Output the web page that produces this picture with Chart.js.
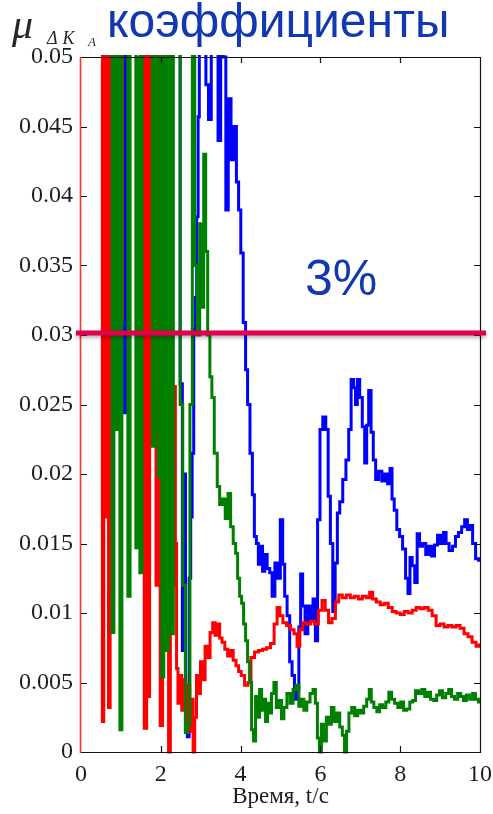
<!DOCTYPE html>
<html>
<head>
<meta charset="utf-8">
<script src="https://cdn.jsdelivr.net/npm/chart.js@4"></script>
<style>
  html,body{margin:0;padding:0;background:#fff;}
  #wrap{position:relative;width:493px;height:814px;overflow:hidden;}
  canvas{position:absolute;left:0;top:0;}
  .t{position:absolute;white-space:nowrap;line-height:1;}
</style>
</head>
<body>
<div id="wrap">
  <canvas id="c" width="493" height="814"></canvas>
  <div class="t" style="left:12px;top:3px;font-family:'Liberation Serif',serif;font-style:italic;font-size:42px;color:#2b2622;">μ</div>
  <div class="t" style="left:47px;top:29px;font-family:'Liberation Serif',serif;font-style:italic;font-size:18px;color:#2b2622;letter-spacing:2px;">Δ<span style="margin-left:3px">K</span></div>
  <div class="t" style="left:88px;top:35px;font-family:'Liberation Serif',serif;font-style:italic;font-size:13px;color:#2b2622;">A</div>
  <div class="t" style="left:107px;top:-3px;font-family:'Liberation Sans',Arial,sans-serif;font-size:48px;color:#1237b2;">коэффициенты</div>
  <div class="t" style="left:305px;top:253px;font-family:'Liberation Sans',Arial,sans-serif;font-size:50px;color:#1237b2;">3%</div>
</div>
<script>
// ---- data (0.08 = above the visible range, clipped) ----
const xTickLabels = ['0','2','4','6','8','10'];
const yTickLabels = ['0','0.005','0.01','0.015','0.02','0.025','0.03','0.035','0.04','0.045','0.05'];
const xTitle = 'Время, t/c';
const thresholdValue = 0.03;

const redT = [0,0.52,0.55,0.59,0.63,0.67,0.71,0.75,0.99,1.02,1.06,1.47,1.51,1.55,1.62,1.67,1.7,1.74,1.86,1.9,1.95,2.02,2.07,2.12,2.17,2.22,2.26,2.3,2.35,2.38,2.41,2.45,2.5,2.55,2.6,2.65,2.7,2.75,2.79,2.83,2.87,2.92,2.97,3.02,3.08,3.14,3.2,3.27,3.33,3.39,3.45,3.5,3.57,3.64,3.71,3.78,3.85,3.92,3.98,4.05,4.15,4.22,4.3,4.4,4.5,4.6,4.7,4.8,4.88,4.95,5.02,5.1,5.2,5.3,5.38,5.45,5.52,5.6,5.7,5.8,5.9,6.0,6.08,6.16,6.25,6.33,6.42,6.5,6.6,6.7,6.8,6.9,7.0,7.1,7.2,7.27,7.35,7.45,7.55,7.65,7.75,7.85,7.95,8.05,8.15,8.25,8.35,8.45,8.55,8.65,8.75,8.85,8.95,9.05,9.15,9.25,9.35,9.45,9.55,9.65,9.75,9.85,9.95,10];
const redV = [0.08,0.08,0.0022,0.08,0.0169,0.08,0.0032,0.08,0.08,0.031,0.08,0.08,0.0239,0.08,0.0017,0.08,0.004,0.08,0.08,0.012,0.08,0.0019,0.05,0.009,0.04,0,0.018,0.012,0.0263,0.015,0.006,0.0035,0.0055,0.003,0.0052,0.002,0.0048,0.0015,0.0038,0,0.0025,0.0055,0.0042,0.0065,0.0052,0.0076,0.0068,0.0086,0.0093,0.0084,0.0092,0.0082,0.0079,0.0074,0.0069,0.0073,0.0066,0.0062,0.0058,0.0055,0.0048,0.005,0.0068,0.0072,0.0073,0.0074,0.0075,0.0078,0.0092,0.0104,0.0098,0.0093,0.0091,0.0088,0.0085,0.0076,0.0088,0.0093,0.0092,0.0094,0.0092,0.0102,0.0109,0.0102,0.0093,0.0096,0.0108,0.0113,0.0111,0.0113,0.0111,0.0112,0.011,0.0112,0.0111,0.0115,0.011,0.0108,0.0106,0.0107,0.0104,0.0101,0.01,0.0099,0.0101,0.01,0.0102,0.0104,0.0103,0.0104,0.0102,0.0098,0.0091,0.0092,0.009,0.0091,0.009,0.0091,0.0089,0.0085,0.0083,0.0079,0.0076,0.0077];

const greenT = [0,0.76,0.8,0.85,0.9,0.95,1.0,1.05,1.15,1.2,1.26,1.35,1.4,1.45,1.5,1.56,1.76,1.82,1.88,1.92,1.96,2.0,2.05,2.1,2.15,2.22,2.28,2.35,2.45,2.52,2.58,2.65,2.7,2.76,2.82,2.88,2.95,3.0,3.05,3.1,3.15,3.2,3.26,3.3,3.38,3.45,3.5,3.58,3.65,3.72,3.78,3.85,3.9,3.95,4.0,4.05,4.1,4.15,4.2,4.25,4.3,4.35,4.4,4.45,4.5,4.55,4.6,4.65,4.7,4.75,4.8,4.87,4.92,5.0,5.05,5.12,5.2,5.28,5.35,5.42,5.5,5.55,5.62,5.7,5.78,5.85,5.9,5.95,6.0,6.05,6.12,6.18,6.25,6.3,6.38,6.45,6.52,6.58,6.63,6.68,6.75,6.82,6.9,6.97,7.05,7.12,7.2,7.25,7.3,7.38,7.45,7.52,7.6,7.68,7.75,7.82,7.9,7.98,8.05,8.12,8.2,8.28,8.35,8.42,8.5,8.58,8.65,8.72,8.8,8.88,8.95,9.02,9.1,9.18,9.25,9.32,9.4,9.48,9.55,9.62,9.7,9.78,9.85,9.92,10];
const greenV = [0.08,0.08,0.0086,0.08,0.0232,0.08,0.0016,0.08,0.08,0.0112,0.08,0.08,0.0147,0.05,0.0129,0.08,0.08,0.022,0.06,0.0234,0.0198,0.08,0.0054,0.08,0.0073,0.06,0.0085,0.08,0.08,0.025,0.012,0.0014,0.002,0.025,0.06,0.035,0.03,0.038,0.032,0.043,0.036,0.03,0.027,0.0255,0.0215,0.0191,0.0178,0.0182,0.0168,0.0186,0.0162,0.015,0.0143,0.0125,0.0112,0.0107,0.0092,0.008,0.0065,0.005,0.0016,0.0008,0.004,0.0025,0.0045,0.003,0.0038,0.0022,0.0035,0.0028,0.0042,0.005,0.0032,0.0037,0.0024,0.0032,0.0042,0.0035,0.0045,0.0048,0.0033,0.0038,0.003,0.0036,0.0042,0.0045,0.0035,0.001,0,0.002,0.0008,0.0025,0.002,0.0032,0.0022,0.0028,0.0018,0.0012,0,0.0015,0.0028,0.0032,0.0026,0.003,0.0028,0.0033,0.0038,0.0045,0.0036,0.0032,0.0029,0.0034,0.0032,0.0036,0.0043,0.0038,0.0035,0.0032,0.0036,0.003,0.0031,0.0036,0.0037,0.0044,0.0042,0.0045,0.004,0.0043,0.0038,0.0037,0.0041,0.0044,0.0039,0.0042,0.0045,0.004,0.0038,0.0042,0.004,0.0037,0.0041,0.0038,0.0042,0.0038,0.0036];

const blueT = [0,1.06,1.12,1.18,2.45,2.52,2.56,2.6,2.64,2.69,2.73,2.77,2.8,2.85,2.88,2.92,2.95,2.98,3.1,3.16,3.23,3.3,3.4,3.47,3.53,3.6,3.66,3.72,3.8,3.87,3.92,3.98,4.03,4.1,4.15,4.2,4.27,4.32,4.37,4.42,4.47,4.52,4.58,4.63,4.7,4.76,4.82,4.9,4.96,5.03,5.08,5.13,5.2,5.26,5.32,5.38,5.44,5.48,5.53,5.58,5.65,5.72,5.78,5.85,5.9,5.96,6.02,6.1,6.17,6.22,6.28,6.34,6.4,6.45,6.52,6.6,6.68,6.74,6.8,6.86,6.9,6.95,7.02,7.08,7.14,7.18,7.24,7.3,7.35,7.42,7.5,7.58,7.65,7.72,7.77,7.82,7.88,7.95,8.02,8.1,8.17,8.22,8.27,8.33,8.4,8.45,8.52,8.6,8.68,8.75,8.82,8.9,8.97,9.05,9.12,9.18,9.27,9.35,9.42,9.5,9.58,9.65,9.72,9.78,9.85,9.93,10];
const blueV = [0.08,0.08,0.0244,0.08,0.08,0.0265,0.0073,0.02,0.0016,0.0011,0.0125,0.0169,0.0215,0.0304,0.0327,0.0385,0.0457,0.06,0.07,0.048,0.0455,0.06,0.06,0.044,0.055,0.05,0.039,0.047,0.0426,0.045,0.041,0.039,0.0359,0.0309,0.0275,0.025,0.0215,0.0185,0.0155,0.015,0.0135,0.0148,0.013,0.0142,0.0132,0.0129,0.0112,0.0136,0.0125,0.0167,0.0135,0.0112,0.0098,0.0065,0.0055,0.0038,0.0045,0.009,0.0128,0.0105,0.0085,0.0105,0.0095,0.011,0.008,0.0167,0.0232,0.0241,0.0232,0.0184,0.015,0.0101,0.0136,0.0172,0.018,0.0196,0.021,0.0232,0.0268,0.0262,0.025,0.0268,0.0255,0.0234,0.0208,0.0235,0.026,0.023,0.021,0.0196,0.0202,0.0195,0.02,0.0193,0.0204,0.0182,0.0174,0.016,0.0155,0.0146,0.0125,0.0114,0.014,0.0134,0.0122,0.0157,0.0148,0.015,0.0142,0.0148,0.0141,0.0149,0.0156,0.015,0.0158,0.015,0.0145,0.0148,0.0155,0.0158,0.0162,0.0167,0.016,0.0163,0.015,0.0139,0.0138];

const toXY = (ts, vs) => ts.map((t, i) => ({x: t, y: vs[i]}));

const frame = {
  id: 'frame',
  afterDatasetsDraw(chart) {
    const {ctx, chartArea: a, scales: {x, y}} = chart;
    ctx.save();
    ctx.lineWidth = 1.2;
    ctx.strokeStyle = '#111';
    ctx.beginPath();
    ctx.moveTo(a.left, a.top + 0.5); ctx.lineTo(a.right + 0.5, a.top + 0.5);
    ctx.lineTo(a.right + 0.5, a.bottom + 0.5); ctx.lineTo(a.left, a.bottom + 0.5);
    ctx.stroke();
    ctx.strokeStyle = '#ff3030';
    ctx.lineWidth = 1.6;
    ctx.beginPath();
    ctx.moveTo(a.left - 0.5, a.top); ctx.lineTo(a.left - 0.5, a.bottom + 1);
    ctx.stroke();
    ctx.strokeStyle = '#111';
    ctx.lineWidth = 1.2;
    ctx.beginPath();
    x.ticks.forEach(tk => {
      const px = Math.round(x.getPixelForValue(tk.value)) + 0.5;
      if (px <= a.left + 1 || px >= a.right - 1) return;
      ctx.moveTo(px, a.bottom); ctx.lineTo(px, a.bottom - 6);
      ctx.moveTo(px, a.top); ctx.lineTo(px, a.top + 6);
    });
    y.ticks.forEach(tk => {
      const py = Math.round(y.getPixelForValue(tk.value)) + 0.5;
      if (py <= a.top + 1 || py >= a.bottom - 1) return;
      ctx.moveTo(a.left, py); ctx.lineTo(a.left + 6, py);
      ctx.moveTo(a.right, py); ctx.lineTo(a.right - 6, py);
    });
    ctx.stroke();
    const ty = y.getPixelForValue(thresholdValue) - 2;
    ctx.shadowColor = 'rgba(0,0,0,0.35)';
    ctx.shadowBlur = 4;
    ctx.shadowOffsetY = 2;
    ctx.strokeStyle = '#e2004e';
    ctx.lineWidth = 5;
    ctx.beginPath();
    ctx.moveTo(a.left - 5, ty); ctx.lineTo(a.right + 6, ty);
    ctx.stroke();
    ctx.restore();
  }
};

const serif = "'Liberation Serif','Times New Roman',serif";

new Chart(document.getElementById('c'), {
  type: 'line',
  data: {
    datasets: [
      {data: toXY(greenT, greenV), borderColor: '#008000'},
      {data: toXY(redT, redV), borderColor: '#ff0000'},
      {data: toXY(blueT, blueV), borderColor: '#0000ff'}
    ].map(d => Object.assign(d, {borderWidth: 3, stepped: 'middle', pointRadius: 0, fill: false, clip: {left: 0, top: 2, right: 0, bottom: 2}}))
  },
  options: {
    responsive: false,
    animation: false,
    devicePixelRatio: 1,
    layout: {padding: {top: 57, right: 13, bottom: 0, left: 0}},
    plugins: {legend: {display: false}, tooltip: {enabled: false}},
    scales: {
      x: {
        type: 'linear', min: 0, max: 10,
        grid: {display: false, drawTicks: false}, border: {display: false},
        ticks: {stepSize: 2, maxRotation: 0, padding: 8, color: '#1c1c24',
                font: {family: serif, size: 24},
                callback: (v, i) => xTickLabels[i]},
        title: {display: true, text: xTitle, color: '#1c1c24',
                font: {family: serif, size: 23}, padding: {top: 0, bottom: 3}},
        afterFit: s => { s.height = 62; s.paddingRight = 0; s.paddingLeft = 0; }
      },
      y: {
        min: 0, max: 0.05,
        grid: {display: false, drawTicks: false}, border: {display: false},
        ticks: {stepSize: 0.005, padding: 8, color: '#1c1c24',
                font: {family: serif, size: 24},
                callback: (v, i) => yTickLabels[i]},
        afterFit: s => { s.width = 81; s.paddingTop = 0; s.paddingBottom = 0; }
      }
    }
  },
  plugins: [frame]
});
</script>
</body>
</html>
